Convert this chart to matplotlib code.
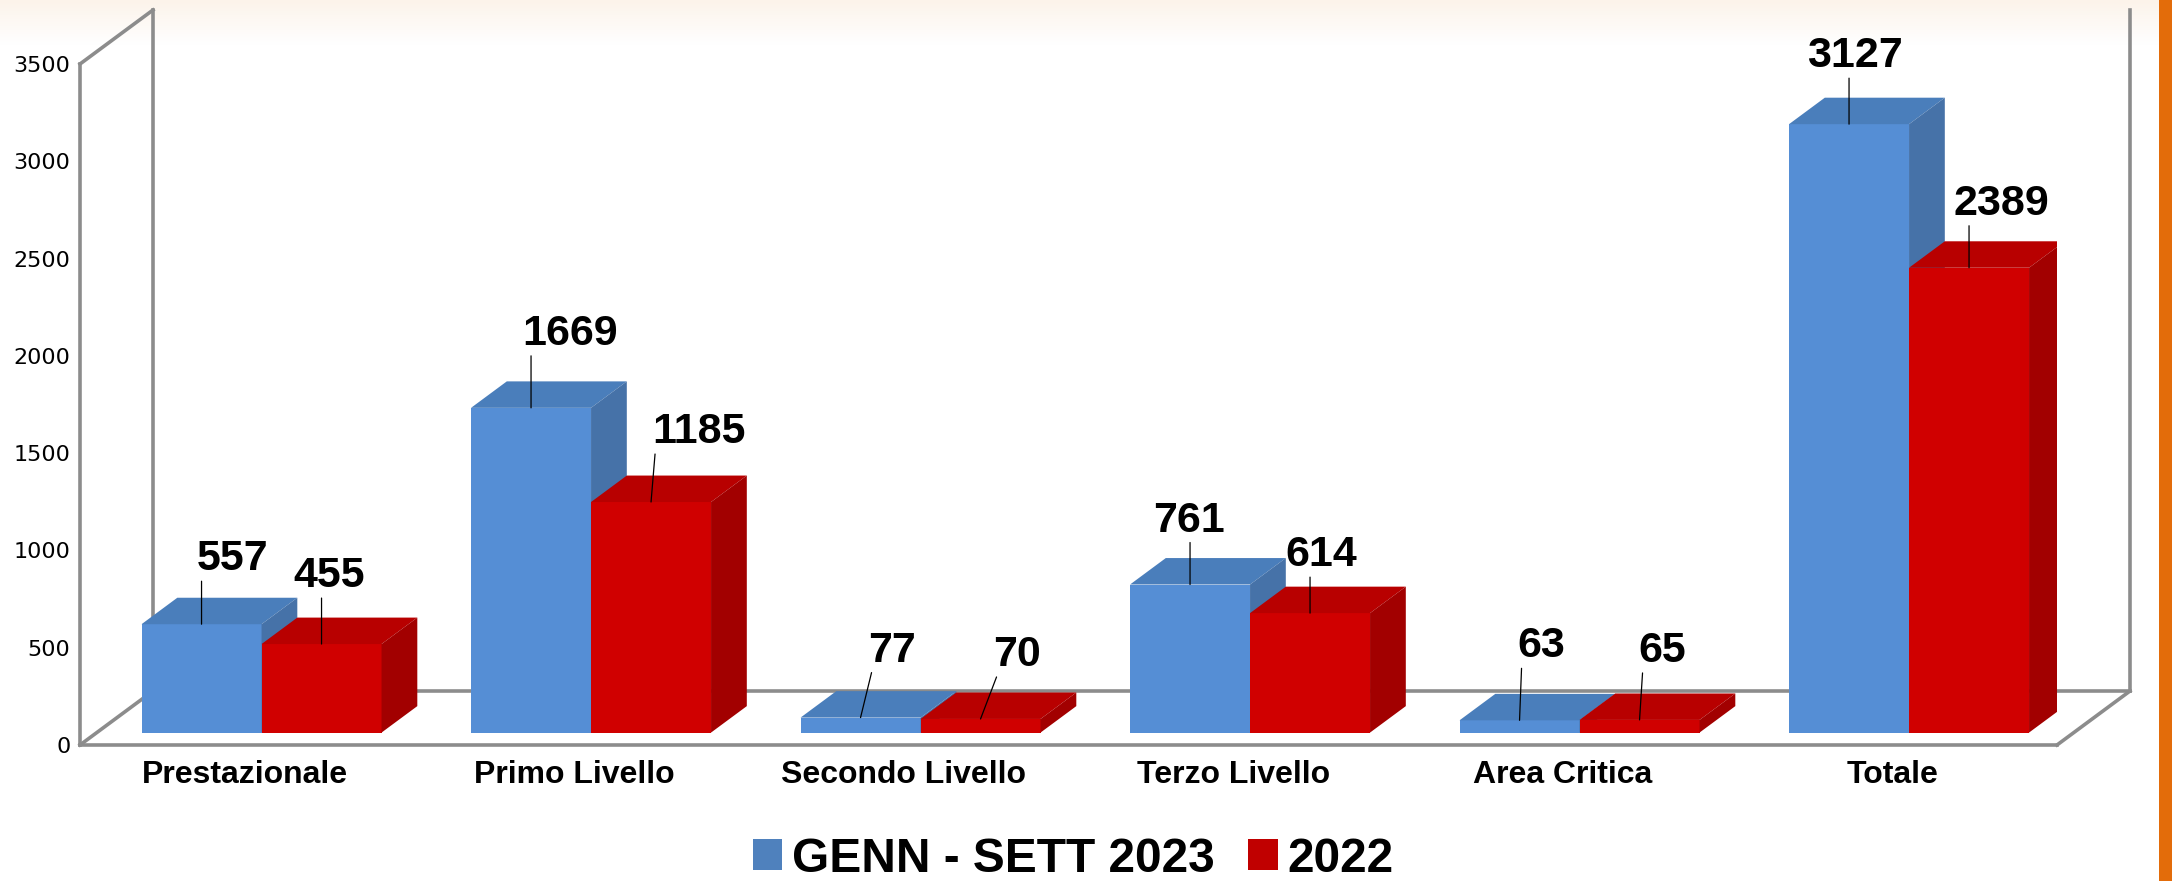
import matplotlib
matplotlib.use("Agg")
import matplotlib.pyplot as plt
import numpy as np
from matplotlib.font_manager import FontProperties
from matplotlib.patches import Patch, Polygon, Rectangle

categories = ["Prestazionale", "Primo Livello", "Secondo Livello",
              "Terzo Livello", "Area Critica", "Totale"]
vals_2023 = [557, 1669, 77, 761, 63, 3127]
vals_2022 = [455, 1185, 70, 614, 65, 2389]
series_names = ["GENN - SETT 2023", "2022"]
y_ticks = [0, 500, 1000, 1500, 2000, 2500, 3000, 3500]

# label offsets in pixels from the top centre of each front face
lab_dx = [[31, 39, 31, -1, 22, 6], [8, 48, 36, 11, 23, 32]]
lab_dy = [[65, 74, 67, 64, 74, 68], [68, 70, 64, 58, 69, 64]]

# front / top / side colours per series
colors = [("#558ED5", "#4A7EBB", "#4672A8"), ("#D00000", "#B80000", "#A20000")]
legend_colors = ["#4F81BD", "#C00000"]
frame_col = "#8C8C8C"

W, H, DPI = 2172, 881, 100
fig = plt.figure(figsize=(W / DPI, H / DPI), dpi=DPI)
fig.patch.set_facecolor("white")

# faint warm band along the top edge
bg = fig.add_axes([0, 1 - 45 / H, 1, 45 / H])
t = np.linspace(0, 1, 60)[:, None, None]
top_rgb = np.array([252, 243, 234]) / 255
grad = top_rgb * (1 - t) + np.ones(3) * t
bg.imshow(np.repeat(grad, 4, axis=1), aspect="auto", extent=(0, 1, 0, 1))
bg.axis("off")

# front plot area in pixels: x 80..2057, y 64..745
ax = fig.add_axes([80 / W, (H - 745) / H, (2057 - 80) / W, (745 - 64) / H])
ax.patch.set_alpha(0)
ymax = 3500
ax.set_xlim(0, len(categories))
ax.set_ylim(0, ymax)
for s in ax.spines.values():
    s.set_visible(False)

px_x = (2057 - 80) / len(categories)
px_y = (745 - 64) / ymax
DX = 73 / px_x   # wall depth in data units
DY = 54 / px_y

# walls / floor outline
n = len(categories)
segs = [
    [(0, 0), (0, ymax)],
    [(0, ymax), (DX, ymax + DY)],
    [(DX, DY), (DX, ymax + DY)],
    [(DX, DY), (n + DX, DY)],
    [(n + DX, DY), (n + DX, ymax + DY)],
    [(0, 0), (n, 0)],
    [(n, 0), (n + DX, DY)],
    [(0, 0), (DX, DY)],
]
for (x0, y0), (x1, y1) in segs:
    ax.plot([x0, x1], [y0, y1], color=frame_col, lw=2.6, clip_on=False,
            solid_capstyle="projecting", zorder=1)

bw = 120 / px_x
d0, bd = 0.23, 0.49
lab_font = FontProperties(family=["Liberation Sans", "DejaVu Sans"], weight="bold", size=31)

for i in range(n):
    for s, vals in enumerate([vals_2023, vals_2022]):
        v = vals[i]
        fc, tc, sc = colors[s]
        xl = i + 0.5 - bw + s * bw + d0 * DX
        base = d0 * DY
        top = base + v
        xr = xl + bw
        z = 3
        ax.bar(xl, v, width=bw, bottom=base, align="edge", color=fc,
               linewidth=0, zorder=z)
        ax.add_patch(Polygon([(xl, top), (xr, top), (xr + bd * DX, top + bd * DY),
                              (xl + bd * DX, top + bd * DY)], closed=True,
                             facecolor=tc, linewidth=0, zorder=z))
        ax.add_patch(Polygon([(xr, base), (xr, top), (xr + bd * DX, top + bd * DY),
                              (xr + bd * DX, base + bd * DY)], closed=True,
                             facecolor=sc, linewidth=0, zorder=z))
        cx = xl + bw / 2
        dx, dy = lab_dx[s][i], lab_dy[s][i]
        ax.annotate(str(v), xy=(cx, top), xytext=(dx, dy), textcoords="offset pixels",
                    ha="center", va="center", fontproperties=lab_font,
                    annotation_clip=False, zorder=20)
        hw = 12 * len(str(v))
        lx = float(np.clip(0, dx - hw + 4, dx + hw - 4))
        ax.annotate("", xy=(cx, top), xytext=(lx, dy - 22), textcoords="offset pixels",
                    arrowprops=dict(arrowstyle="-", color="black", lw=0.9,
                                    shrinkA=0, shrinkB=0),
                    annotation_clip=False, zorder=20)

ax.set_yticks(y_ticks)
ax.tick_params(axis="y", length=0, pad=7, labelsize=16)
ax.set_xticks([i + 0.5 for i in range(n)])
ax.set_xticklabels(categories, fontproperties=FontProperties(
    family=["Liberation Sans", "DejaVu Sans"], weight="bold", size=23))
ax.tick_params(axis="x", length=0, pad=11)

# legend
leg_font = FontProperties(family=["Liberation Sans", "DejaVu Sans"], weight="bold", size=34.5)
handles = [Patch(facecolor=c, edgecolor="none") for c in legend_colors]
fig.legend(handles, series_names, loc="center", bbox_to_anchor=(1073 / W, 22 / H),
           ncol=2, frameon=False, prop=leg_font, handlelength=0.62,
           handleheight=0.6, handletextpad=0.2, columnspacing=0.7,
           borderpad=0)

# orange strip at the right edge
fig.add_artist(Rectangle((2159 / W, 0), 13 / W, 1, transform=fig.transFigure,
                         facecolor="#E36C0A", edgecolor="none"))

fig.savefig("out.png", dpi=DPI)
